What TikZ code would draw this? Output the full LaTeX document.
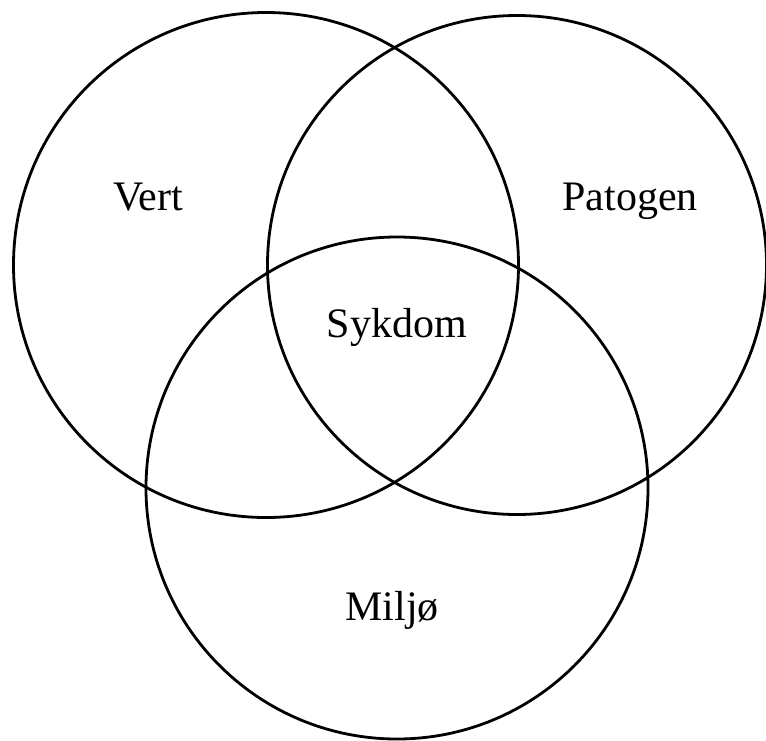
\documentclass[tikz,border=0pt]{standalone}
\usepackage{fontspec}
\setmainfont{Liberation Serif}
\begin{document}
\begin{tikzpicture}[x=1pt,y=-1pt,
  ring/.style={draw=black,line width=2.8pt,circle,minimum size=#1,inner sep=0pt},
  label/.style={font=\fontsize{42}{48}\selectfont,anchor=base,inner sep=0pt}]
  \useasboundingbox (0,0) rectangle (766,740);
  % three overlapping sets
  \node[ring=505pt] (vert) at (266,265) {};
  \node[ring=499pt] (patogen) at (517,265) {};
  \node[ring=502pt] (miljo) at (397,488) {};
  % set labels
  \node[label] (tvert) at (148,210) {Vert};
  \node[label] (tpatogen) at (630,210) {Patogen};
  \node[label] (tsykdom) at (397,337) {Sykdom};
  \node[label] (tmiljo) at (392,620) {Miljø};
\end{tikzpicture}
\end{document}
